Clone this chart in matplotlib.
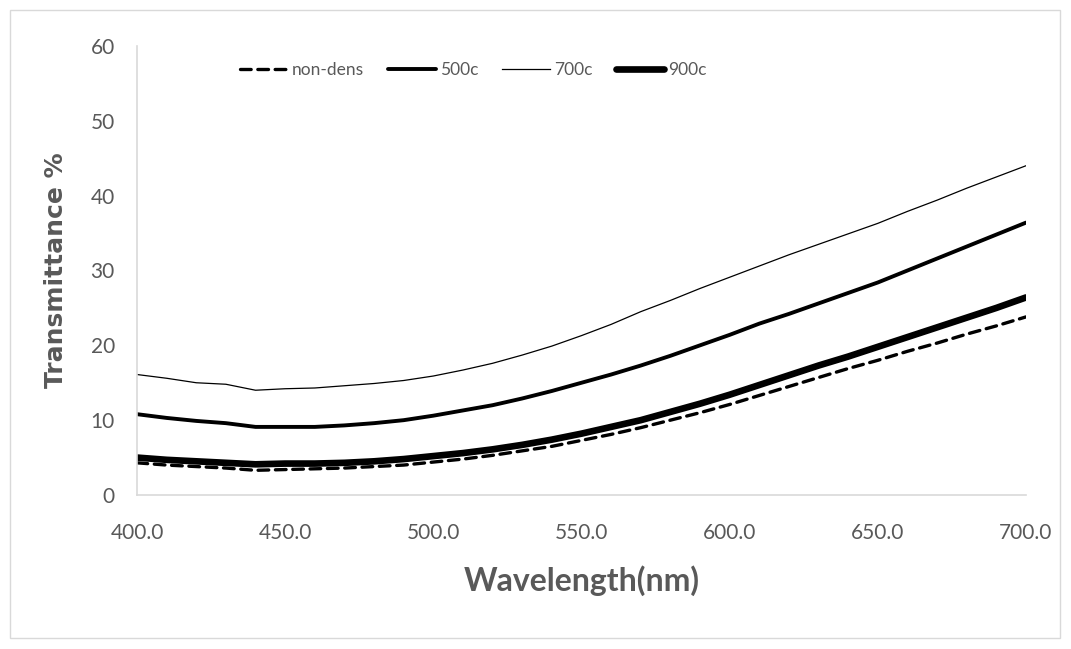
import matplotlib
matplotlib.use("Agg")
import matplotlib.pyplot as plt
from matplotlib.patches import Rectangle

wavelength = [400, 410, 420, 430, 440, 450, 460, 470, 480, 490, 500, 510, 520, 530, 540,
              550, 560, 570, 580, 590, 600, 610, 620, 630, 640, 650, 660, 670, 680, 690, 700]
non_dens = [4.3, 4.0, 3.8, 3.6, 3.3, 3.4, 3.5, 3.6, 3.8, 4.0, 4.4, 4.8, 5.3, 5.9, 6.5,
            7.3, 8.1, 9.0, 10.0, 11.0, 12.1, 13.3, 14.5, 15.7, 16.9, 18.0, 19.2, 20.3, 21.5, 22.6, 23.8]
c500 = [10.8, 10.3, 9.9, 9.6, 9.1, 9.1, 9.1, 9.3, 9.6, 10.0, 10.6, 11.3, 12.0, 12.9, 13.9,
        15.0, 16.1, 17.3, 18.6, 20.0, 21.4, 22.9, 24.2, 25.6, 27.0, 28.4, 30.0, 31.6, 33.2, 34.8, 36.4]
c700 = [16.1, 15.6, 15.0, 14.8, 14.0, 14.2, 14.3, 14.6, 14.9, 15.3, 15.9, 16.7, 17.6, 18.7, 19.9,
        21.3, 22.8, 24.5, 26.0, 27.6, 29.1, 30.6, 32.1, 33.5, 34.9, 36.3, 37.9, 39.4, 41.0, 42.5, 44.0]
c900 = [5.0, 4.7, 4.5, 4.3, 4.1, 4.2, 4.2, 4.3, 4.5, 4.8, 5.2, 5.6, 6.1, 6.7, 7.4,
        8.2, 9.1, 10.0, 11.1, 12.2, 13.4, 14.7, 16.0, 17.3, 18.5, 19.8, 21.1, 22.4, 23.7, 25.0, 26.4]

x_ticks = [400, 450, 500, 550, 600, 650, 700]
x_tick_labels = ["400.0", "450.0", "500.0", "550.0", "600.0", "650.0", "700.0"]
y_ticks = [0, 10, 20, 30, 40, 50, 60]

gray = "#595959"
axis_gray = "#d9d9d9"
tick_font = ["Lato", "DejaVu Sans"]

fig = plt.figure(figsize=(10.71, 6.49), dpi=100)
fig.patches.append(Rectangle((10 / 1071, 11 / 649), 1050 / 1071, 628 / 649,
                             transform=fig.transFigure, fill=False,
                             edgecolor=axis_gray, linewidth=1.0))
ax = fig.add_axes([137 / 1071, 1 - 495 / 649, (1026 - 137) / 1071, (495 - 46) / 649])

ax.plot(wavelength, non_dens, color="black", lw=2.4, linestyle=(0, (3.2, 2.0)), label="non-dens",
        solid_capstyle="round", dash_capstyle="round")
ax.plot(wavelength, c500, color="black", lw=2.8, label="500c", solid_capstyle="round")
ax.plot(wavelength, c700, color="black", lw=0.9, label="700c")
ax.plot(wavelength, c900, color="black", lw=4.8, label="900c", solid_capstyle="round")

ax.set_xlim(400, 700)
ax.set_ylim(0, 60)
ax.set_xticks(x_ticks)
ax.set_xticklabels(x_tick_labels)
ax.set_yticks(y_ticks)
ax.tick_params(axis="both", length=0, colors=gray, labelsize=15)
ax.tick_params(axis="x", pad=20)
ax.tick_params(axis="y", pad=16)
for lab in ax.get_xticklabels() + ax.get_yticklabels():
    lab.set_family(tick_font)

for s in ["top", "right"]:
    ax.spines[s].set_visible(False)
for s in ["left", "bottom"]:
    ax.spines[s].set_color(axis_gray)
    ax.spines[s].set_linewidth(1.2)

ax.set_xlabel("Wavelength(nm)", fontsize=23, fontweight="bold", color=gray,
              family=["Lato", "DejaVu Sans"], labelpad=16)
ax.set_ylabel("Transmittance %", fontsize=18, fontweight="bold", color=gray,
              family=["DejaVu Sans"], labelpad=16)

leg = ax.legend(loc="upper center", bbox_to_anchor=(0.378, 1.0), ncol=4, frameon=False,
                handlelength=2.8, handletextpad=0.2, columnspacing=1.35,
                prop={"family": tick_font, "size": 12.5})
for t in leg.get_texts():
    t.set_color(gray)

fig.savefig("out.png", dpi=100)
